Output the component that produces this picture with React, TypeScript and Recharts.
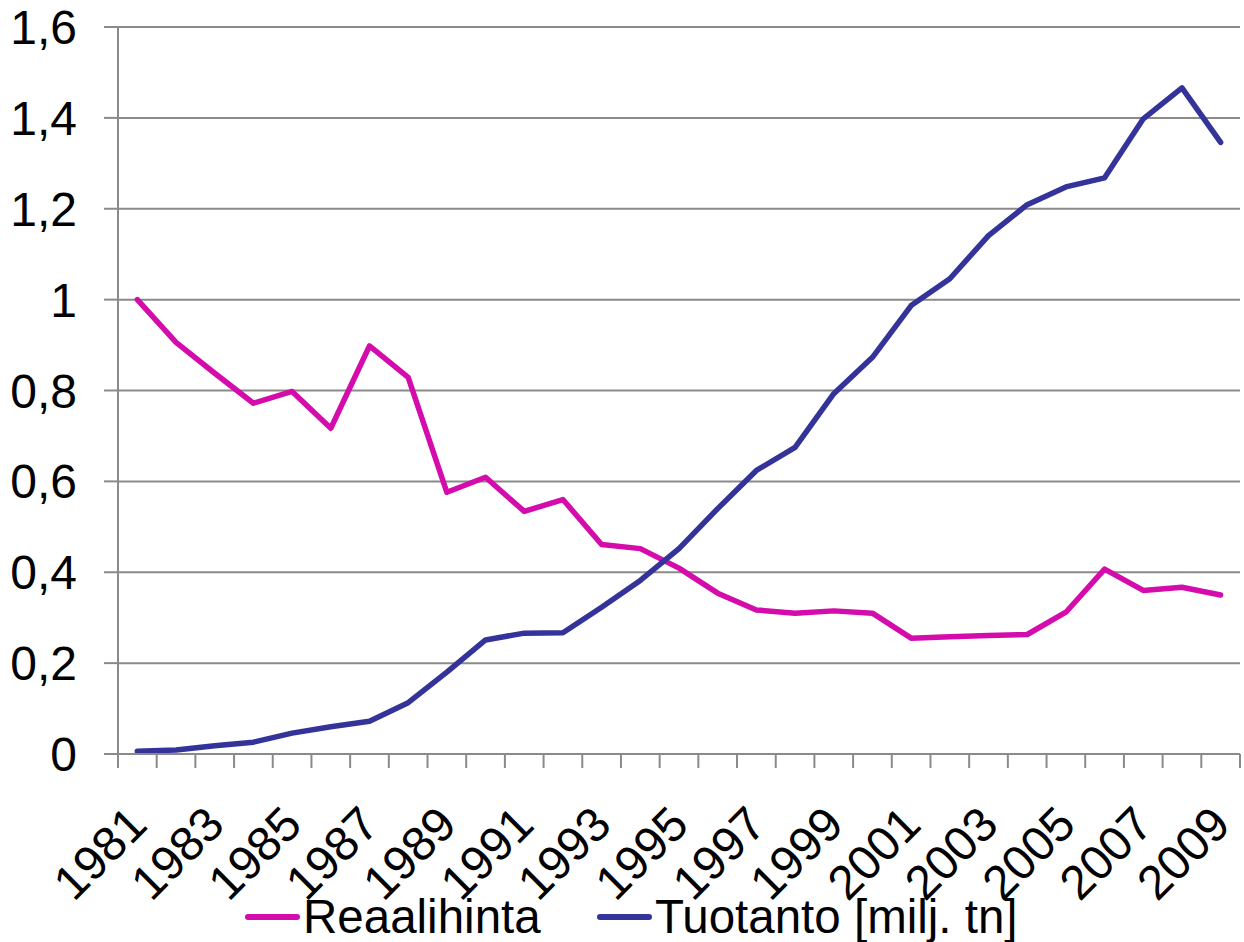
import React from "react";
import {
  CartesianGrid,
  Legend,
  Line,
  LineChart,
  XAxis,
  YAxis,
} from "recharts";

const YEARS = [
  "1981", "1982", "1983", "1984", "1985", "1986", "1987", "1988", "1989", "1990",
  "1991", "1992", "1993", "1994", "1995", "1996", "1997", "1998", "1999", "2000",
  "2001", "2002", "2003", "2004", "2005", "2006", "2007", "2008", "2009",
];

// real price index
const REAALIHINTA = [
  1.0, 0.906, 0.838, 0.772, 0.798, 0.717, 0.898, 0.829, 0.576, 0.609,
  0.534, 0.56, 0.461, 0.452, 0.409, 0.354, 0.317, 0.31, 0.315, 0.31,
  0.255, 0.258, 0.261, 0.263, 0.312, 0.407, 0.36, 0.367, 0.35,
];

// production, million tonnes
const TUOTANTO = [
  0.006, 0.009, 0.018, 0.026, 0.046, 0.06, 0.072, 0.113, 0.18, 0.251,
  0.266, 0.267, 0.323, 0.382, 0.452, 0.54, 0.624, 0.675, 0.793, 0.873,
  0.987, 1.046, 1.141, 1.209, 1.248, 1.268, 1.398, 1.466, 1.346,
];

const Y_TICKS = [0, 0.2, 0.4, 0.6, 0.8, 1, 1.2, 1.4, 1.6];

const PINK = "#D40CAC";
const BLUE = "#333399";
const GRID = "#8a8a8a";
const FONT = "'Liberation Sans', Arial, sans-serif";

const data = YEARS.map((year, i) => ({
  year,
  hinta: REAALIHINTA[i],
  tuotanto: TUOTANTO[i],
}));

const HALF_BAND = 19.35;

// Excel style: tick marks between categories, label on every other year
const YearTick = (props: any) => {
  const { x, y, payload, index } = props;
  const i = payload.index ?? index;
  const last = i === YEARS.length - 1;
  return (
    <g>
      <line
        x1={x - HALF_BAND}
        x2={x - HALF_BAND}
        y1={y}
        y2={y + 14}
        stroke={GRID}
        strokeWidth={2}
      />
      {last && (
        <line
          x1={x + HALF_BAND}
          x2={x + HALF_BAND}
          y1={y}
          y2={y + 14}
          stroke={GRID}
          strokeWidth={2}
        />
      )}
      {i % 2 === 0 && (
        <g transform={`translate(${x + 12},${y + 73}) rotate(-45)`}>
          <text
            x={0}
            y={0}
            textAnchor="end"
            fontSize={48}
            fontFamily={FONT}
            fill="#000"
          >
            {payload.value}
          </text>
        </g>
      )}
    </g>
  );
};

const LegendContent = () => (
  <div
    style={{
      position: "relative",
      height: 53,
      fontFamily: FONT,
      fontSize: 47.5,
      lineHeight: "53px",
      color: "#000",
    }}
  >
    {[
      { label: "Reaalihinta", color: PINK, left: 245 },
      { label: "Tuotanto [milj. tn]", color: BLUE, left: 597 },
    ].map((item) => (
      <div
        key={item.label}
        style={{
          position: "absolute",
          left: item.left,
          top: 0,
          display: "flex",
          alignItems: "center",
          whiteSpace: "nowrap",
        }}
      >
        <span
          style={{
            display: "inline-block",
            width: 55,
            height: 6,
            borderRadius: 3,
            background: item.color,
            marginRight: 3,
          }}
        />
        <span>{item.label}</span>
      </div>
    ))}
  </div>
);

export default function App() {
  return (
    <div
      style={{
        position: "absolute",
        left: 0,
        top: 0,
        width: 1244,
        height: 942,
        background: "#fff",
      }}
    >
      <LineChart
        width={1244}
        height={942}
        data={data}
        margin={{ top: 27, right: 4, left: 0, bottom: 0 }}
      >
        <CartesianGrid vertical={false} stroke={GRID} strokeWidth={2} />
        <XAxis
          dataKey="year"
          height={188}
          interval={0}
          padding={{ left: HALF_BAND, right: HALF_BAND }}
          axisLine={{ stroke: GRID, strokeWidth: 2 }}
          tickLine={false}
          tickSize={0}
          tickMargin={0}
          tick={<YearTick />}
        />
        <YAxis
          width={118}
          domain={[0, 1.6]}
          ticks={Y_TICKS}
          interval={0}
          tickFormatter={(v: number) => String(v).replace(".", ",")}
          tickSize={14}
          tickMargin={27}
          axisLine={{ stroke: GRID, strokeWidth: 2 }}
          tickLine={{ stroke: GRID, strokeWidth: 2 }}
          tick={{ fontSize: 48, fontFamily: FONT, fill: "#000" }}
        />
        <Line
          type="linear"
          dataKey="hinta"
          name="Reaalihinta"
          stroke={PINK}
          strokeWidth={5.5}
          strokeLinecap="round"
          strokeLinejoin="round"
          dot={false}
          activeDot={false}
          isAnimationActive={false}
        />
        <Line
          type="linear"
          dataKey="tuotanto"
          name="Tuotanto [milj. tn]"
          stroke={BLUE}
          strokeWidth={5.5}
          strokeLinecap="round"
          strokeLinejoin="round"
          dot={false}
          activeDot={false}
          isAnimationActive={false}
        />
        <Legend
          layout="horizontal"
          verticalAlign="middle"
          align="center"
          content={<LegendContent />}
          wrapperStyle={{ position: "absolute", top: 890, left: 0, width: 1244 }}
        />
      </LineChart>
    </div>
  );
}
